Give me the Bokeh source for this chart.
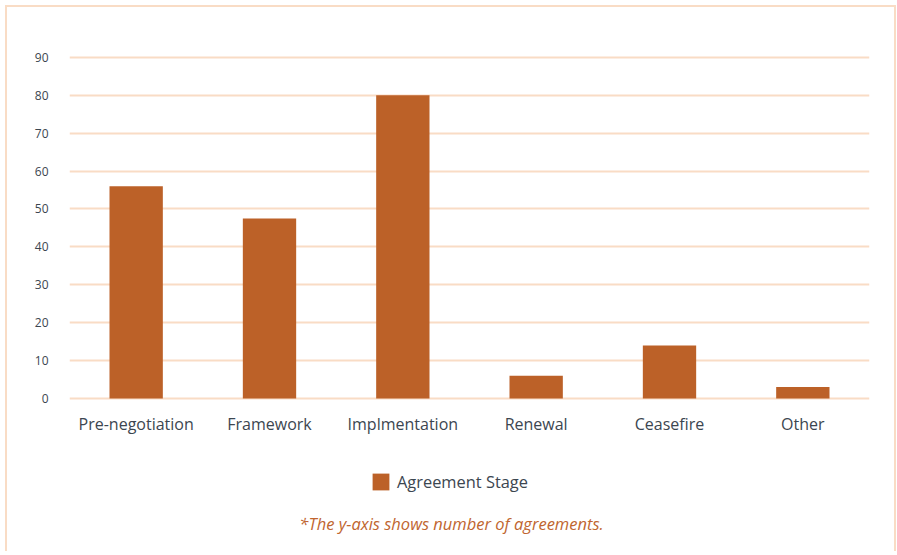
from bokeh.plotting import figure
from bokeh.models import ColumnDataSource, Legend, LegendItem, Label, FixedTicker, Range1d
from bokeh.embed import file_html
from bokeh.resources import INLINE

categories = ["Pre-negotiation", "Framework", "Implmentation", "Renewal", "Ceasefire", "Other"]
counts = [56, 47.5, 80, 6, 14, 3]
y_ticks = [0, 10, 20, 30, 40, 50, 60, 70, 80, 90]
series_name = "Agreement Stage"
footnote = "*The y-axis shows number of agreements."

BAR = "#BC6128"
GRID = "#F9DCC5"
TEXT = "#3C4650"
FONT = "Open Sans"

src = ColumnDataSource(dict(cat=categories, val=counts))

# frame extends below zero so that legend and note sit inside it
p = figure(x_range=categories, y_range=Range1d(-40.9, 91), width=891, height=546,
           output_backend="svg", toolbar_location=None,
           min_border_left=62, min_border_right=29, min_border_top=46, min_border_bottom=0)
p.styles = {"border-top": "2px solid #F9DCC5", "border-left": "2px solid #F9DCC5",
            "border-right": "2px solid #F9DCC5", "margin-left": "5px", "margin-top": "5px"}
p.outline_line_color = None

r = p.vbar(x="cat", top="val", width=0.4, source=src, color=BAR, line_color=None)

p.xgrid.grid_line_color = None
p.ygrid.grid_line_color = GRID
p.ygrid.grid_line_width = 2
p.yaxis.ticker = FixedTicker(ticks=y_ticks)
p.ygrid.level = "underlay"

for ax in (p.xaxis[0], p.yaxis[0]):
    ax.axis_line_color = None
    ax.major_tick_line_color = None
    ax.minor_tick_line_color = None
    ax.major_label_text_font = FONT
    ax.major_label_text_color = TEXT

p.xaxis.fixed_location = 0
p.yaxis.major_label_text_font_size = "12px"
p.yaxis.major_label_standoff = 15
p.xaxis.major_label_text_font_size = "16px"
p.xaxis.major_label_standoff = 9
p.x_range.range_padding = 0

legend = Legend(items=[LegendItem(label=series_name, renderers=[r])],
                location=(301, 60), orientation="horizontal",
                glyph_width=21, glyph_height=21, label_height=21, padding=0, margin=0,
                label_standoff=6, border_line_color=None, background_fill_alpha=0,
                label_text_font=FONT, label_text_font_size="16.4px", label_text_color=TEXT)
p.add_layout(legend, "center")

note = Label(x=382, y=30, x_units="screen", y_units="screen", text=footnote,
             text_align="center", text_baseline="middle", text_font=FONT,
             text_font_style="italic", text_font_size="16.5px", text_color="#C0652F")
p.add_layout(note)

open("out.html", "w").write(file_html(p, INLINE))
